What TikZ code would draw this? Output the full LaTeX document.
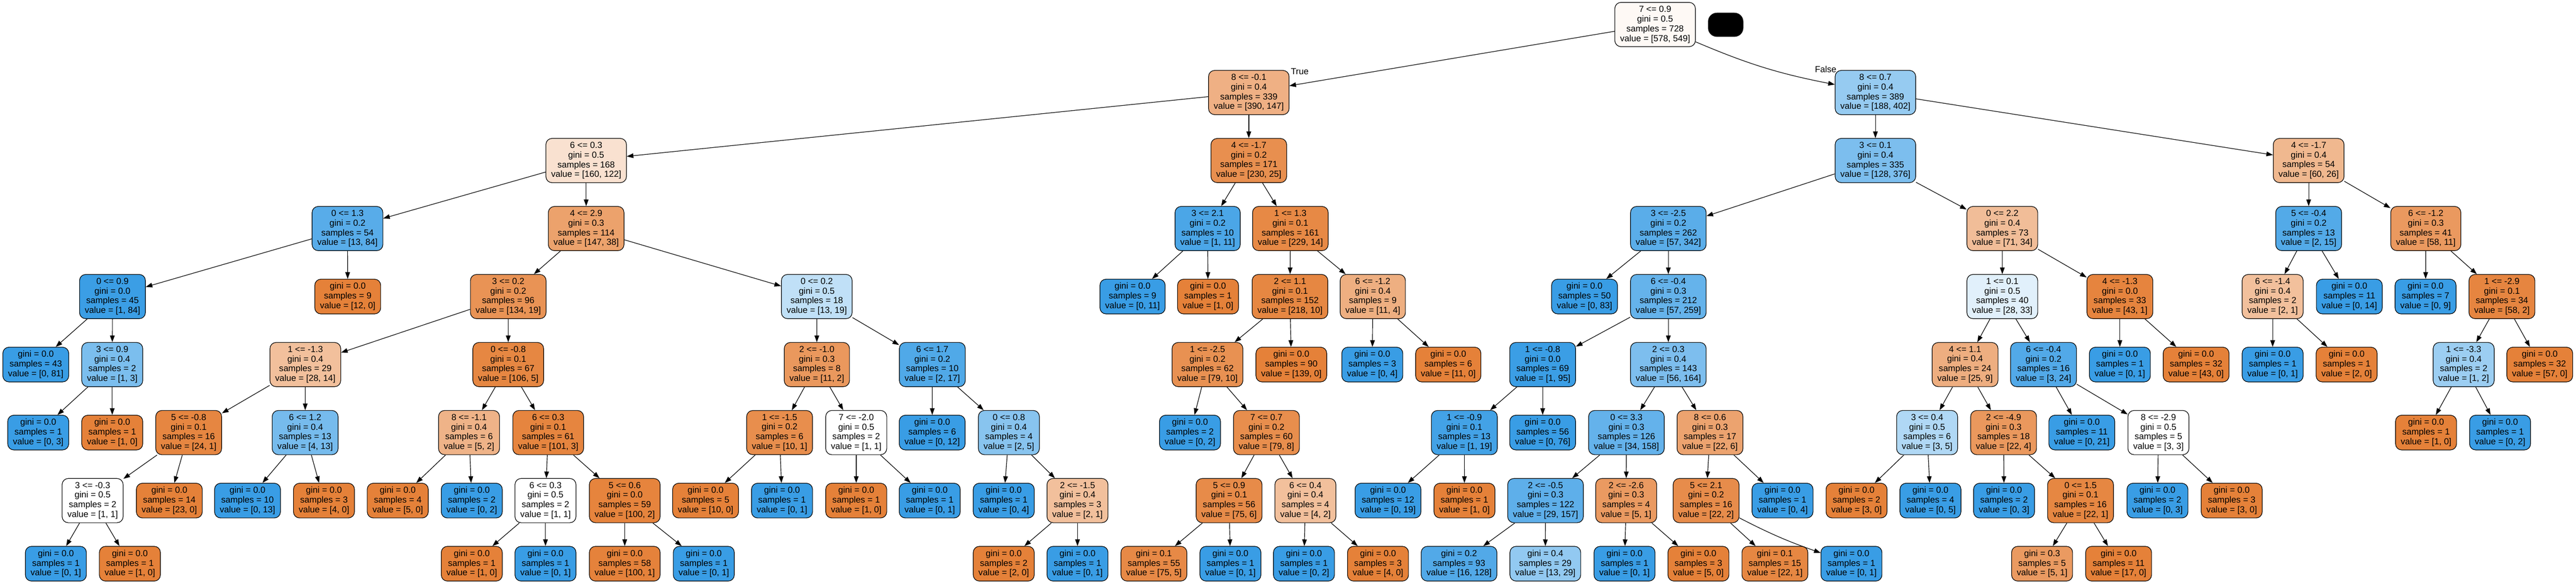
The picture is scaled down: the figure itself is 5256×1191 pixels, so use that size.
\documentclass[tikz,border=0pt]{standalone}
\usepackage{fontspec}
\setmainfont{Liberation Sans}
\usetikzlibrary{arrows.meta}
\definecolor{co}{RGB}{229,129,57}
\definecolor{cb}{RGB}{57,157,229}
\newcommand{\Dsplit}[4]{#1\\gini = #2\\samples = #3\\value = [#4]}
\newcommand{\Dleaf}[3]{gini = #1\\samples = #2\\value = [#3]}
\tikzset{
  tn/.style={draw=black, line width=0.7pt, rounded corners=0.25cm, align=center,
    inner xsep=6.07pt, inner ysep=4.13pt, font=\fontsize{10.2pt}{11.28pt}\selectfont},
  edge/.style={draw=black, line width=0.7pt, -{Triangle[length=0.27cm,width=0.19cm]}},
  lbl/.style={inner sep=0pt, font=\fontsize{10.2pt}{11.28pt}\selectfont}
}
\begin{document}
\begin{tikzpicture}[x=0.02cm,y=-0.02cm]
\path[use as bounding box, fill=white] (0,0) rectangle (5256,1191);
% depth 0
\node[tn,fill=co!5.0] (r) at (3377,50) {\Dsplit{7 <= 0.9}{0.5}{728}{578, 549}};
\node[fill=black, rounded corners=0.36cm, minimum width=1.44cm, minimum height=0.98cm, inner sep=0pt] (blk) at (3521,50.5) {};
% depth 1
\node[tn,fill=co!62.3] (a) at (2548,188.7) {\Dsplit{8 <= -0.1}{0.4}{339}{390, 147}};
\node[tn,fill=cb!53.2] (b) at (3826.5,188.7) {\Dsplit{8 <= 0.7}{0.4}{389}{188, 402}};
% depth 2
\node[tn,fill=co!23.8] (aa) at (1196,327.4) {\Dsplit{6 <= 0.3}{0.5}{168}{160, 122}};
\node[tn,fill=co!89.1] (ab) at (2548,327.4) {\Dsplit{4 <= -1.7}{0.2}{171}{230, 25}};
\node[tn,fill=cb!66.0] (ba) at (3826.5,327.4) {\Dsplit{3 <= 0.1}{0.4}{335}{128, 376}};
\node[tn,fill=co!56.7] (bb) at (4710.5,327.4) {\Dsplit{4 <= -1.7}{0.4}{54}{60, 26}};
% depth 3
\node[tn,fill=cb!84.5] (aaa) at (709,466.1) {\Dsplit{0 <= 1.3}{0.2}{54}{13, 84}};
\node[tn,fill=co!74.1] (aab) at (1196,466.1) {\Dsplit{4 <= 2.9}{0.3}{114}{147, 38}};
\node[tn,fill=cb!90.9] (aba) at (2464,466.1) {\Dsplit{3 <= 2.1}{0.2}{10}{1, 11}};
\node[tn,fill=co!93.9] (abb) at (2632.8,466.1) {\Dsplit{1 <= 1.3}{0.1}{161}{229, 14}};
\node[tn,fill=cb!83.3] (baa) at (3404,466.1) {\Dsplit{3 <= -2.5}{0.2}{262}{57, 342}};
\node[tn,fill=co!52.1] (bab) at (4085.4,466.1) {\Dsplit{0 <= 2.2}{0.4}{73}{71, 34}};
\node[tn,fill=cb!86.7] (bba) at (4710.5,466.1) {\Dsplit{5 <= -0.4}{0.2}{13}{2, 15}};
\node[tn,fill=co!81.0] (bbb) at (4949.5,466.1) {\Dsplit{6 <= -1.2}{0.3}{41}{58, 11}};
% depth 4
\node[tn,fill=cb!98.8] (aaaa) at (229.5,604.8) {\Dsplit{0 <= 0.9}{0.0}{45}{1, 84}};
\node[tn,fill=co] (aaab) at (709.5,604.8) {\Dleaf{0.0}{9}{12, 0}};
\node[tn,fill=co!85.8] (aaba) at (1037,604.8) {\Dsplit{3 <= 0.2}{0.2}{96}{134, 19}};
\node[tn,fill=cb!31.6] (aabb) at (1666.5,604.8) {\Dsplit{0 <= 0.2}{0.5}{18}{13, 19}};
\node[tn,fill=cb] (abaa) at (2310.8,604.8) {\Dleaf{0.0}{9}{0, 11}};
\node[tn,fill=co] (abab) at (2464.8,604.8) {\Dleaf{0.0}{1}{1, 0}};
\node[tn,fill=co!95.4] (abba) at (2632,604.8) {\Dsplit{2 <= 1.1}{0.1}{152}{218, 10}};
\node[tn,fill=co!63.6] (abbb) at (2801,604.8) {\Dsplit{6 <= -1.2}{0.4}{9}{11, 4}};
\node[tn,fill=cb] (baaa) at (3233,604.8) {\Dleaf{0.0}{50}{0, 83}};
\node[tn,fill=cb!78.0] (baab) at (3404,604.8) {\Dsplit{6 <= -0.4}{0.3}{212}{57, 259}};
\node[tn,fill=cb!15.2] (baba) at (4085.4,604.8) {\Dsplit{1 <= 0.1}{0.5}{40}{28, 33}};
\node[tn,fill=co!97.7] (babb) at (4325.3,604.8) {\Dsplit{4 <= -1.3}{0.0}{33}{43, 1}};
\node[tn,fill=co!50] (bbaa) at (4637,604.8) {\Dsplit{6 <= -1.4}{0.4}{2}{2, 1}};
\node[tn,fill=cb] (bbab) at (4793.5,604.8) {\Dleaf{0.0}{11}{0, 14}};
\node[tn,fill=cb] (bbba) at (4949,604.8) {\Dleaf{0.0}{7}{0, 9}};
\node[tn,fill=co!96.6] (bbbb) at (5104.8,604.8) {\Dsplit{1 <= -2.9}{0.1}{34}{58, 2}};
% depth 5
\node[tn,fill=cb] (aaaaa) at (73,743.5) {\Dleaf{0.0}{43}{0, 81}};
\node[tn,fill=cb!66.7] (aaaab) at (229,743.5) {\Dsplit{3 <= 0.9}{0.4}{2}{1, 3}};
\node[tn,fill=co!50] (aabaa) at (623,743.5) {\Dsplit{1 <= -1.3}{0.4}{29}{28, 14}};
\node[tn,fill=co!95.3] (aabab) at (1037,743.5) {\Dsplit{0 <= -0.8}{0.1}{67}{106, 5}};
\node[tn,fill=co!81.8] (aabba) at (1666.7,743.5) {\Dsplit{2 <= -1.0}{0.3}{8}{11, 2}};
\node[tn,fill=cb!88.2] (aabbb) at (1902.3,743.5) {\Dsplit{6 <= 1.7}{0.2}{10}{2, 17}};
\node[tn,fill=co!87.3] (abbaa) at (2463.7,743.5) {\Dsplit{1 <= -2.5}{0.2}{62}{79, 10}};
\node[tn,fill=co] (abbab) at (2634.8,743.5) {\Dleaf{0.0}{90}{139, 0}};
\node[tn,fill=cb] (abbba) at (2800,743.5) {\Dleaf{0.0}{3}{0, 4}};
\node[tn,fill=co] (abbbb) at (2955,743.5) {\Dleaf{0.0}{6}{11, 0}};
\node[tn,fill=cb!98.9] (baaba) at (3147.6,743.5) {\Dsplit{1 <= -0.8}{0.0}{69}{1, 95}};
\node[tn,fill=cb!65.9] (baabb) at (3404,743.5) {\Dsplit{2 <= 0.3}{0.4}{143}{56, 164}};
\node[tn,fill=co!64] (babaa) at (4009.4,743.5) {\Dsplit{4 <= 1.1}{0.4}{24}{25, 9}};
\node[tn,fill=cb!87.5] (babab) at (4169.5,743.5) {\Dsplit{6 <= -0.4}{0.2}{16}{3, 24}};
\node[tn,fill=cb] (babba) at (4325.3,743.5) {\Dleaf{0.0}{1}{0, 1}};
\node[tn,fill=co] (babbb) at (4480.8,743.5) {\Dleaf{0.0}{32}{43, 0}};
\node[tn,fill=cb] (bbaaa) at (4637,743.5) {\Dleaf{0.0}{1}{0, 1}};
\node[tn,fill=co] (bbaab) at (4788,743.5) {\Dleaf{0.0}{1}{2, 0}};
\node[tn,fill=cb!50] (bbbba) at (5026.8,743.5) {\Dsplit{1 <= -3.3}{0.4}{2}{1, 2}};
\node[tn,fill=co] (bbbbb) at (5182,743.5) {\Dleaf{0.0}{32}{57, 0}};
% depth 6
\node[tn,fill=cb] (aaaaba) at (78,882.2) {\Dleaf{0.0}{1}{0, 3}};
\node[tn,fill=co] (aaaabb) at (229,882.2) {\Dleaf{0.0}{1}{1, 0}};
\node[tn,fill=co!95.8] (aabaaa) at (385,882.2) {\Dsplit{5 <= -0.8}{0.1}{16}{24, 1}};
\node[tn,fill=cb!69.2] (aabaab) at (622.6,882.2) {\Dsplit{6 <= 1.2}{0.4}{13}{4, 13}};
\node[tn,fill=co!60] (aababa) at (957,882.2) {\Dsplit{8 <= -1.1}{0.4}{6}{5, 2}};
\node[tn,fill=co!97.0] (aababb) at (1118.5,882.2) {\Dsplit{6 <= 0.3}{0.1}{61}{101, 3}};
\node[tn,fill=co!90] (aabbaa) at (1590.6,882.2) {\Dsplit{1 <= -1.5}{0.2}{6}{10, 1}};
\node[tn,fill=white] (aabbab) at (1747,882.2) {\Dsplit{7 <= -2.0}{0.5}{2}{1, 1}};
\node[tn,fill=cb] (aabbba) at (1902,882.2) {\Dleaf{0.0}{6}{0, 12}};
\node[tn,fill=cb!60] (aabbbb) at (2058.5,882.2) {\Dsplit{0 <= 0.8}{0.4}{4}{2, 5}};
\node[tn,fill=cb] (abbaaa) at (2428,882.2) {\Dleaf{0.0}{2}{0, 2}};
\node[tn,fill=co!89.9] (abbaab) at (2584,882.2) {\Dsplit{7 <= 0.7}{0.2}{60}{79, 8}};
\node[tn,fill=cb!94.7] (baabaa) at (2987.8,882.2) {\Dsplit{1 <= -0.9}{0.1}{13}{1, 19}};
\node[tn,fill=cb] (baabab) at (3147.6,882.2) {\Dleaf{0.0}{56}{0, 76}};
\node[tn,fill=cb!78.5] (baabba) at (3318.5,882.2) {\Dsplit{0 <= 3.3}{0.3}{126}{34, 158}};
\node[tn,fill=co!72.7] (baabbb) at (3489,882.2) {\Dsplit{8 <= 0.6}{0.3}{17}{22, 6}};
\node[tn,fill=cb!40] (babaaa) at (3932,882.2) {\Dsplit{3 <= 0.4}{0.5}{6}{3, 5}};
\node[tn,fill=co!81.8] (babaab) at (4088,882.2) {\Dsplit{2 <= -4.9}{0.3}{18}{22, 4}};
\node[tn,fill=cb] (bababa) at (4247.6,882.2) {\Dleaf{0.0}{11}{0, 21}};
\node[tn,fill=white] (bababb) at (4404,882.2) {\Dsplit{8 <= -2.9}{0.5}{5}{3, 3}};
\node[tn,fill=co] (bbbbaa) at (4950,882.2) {\Dleaf{0.0}{1}{1, 0}};
\node[tn,fill=cb] (bbbbab) at (5101,882.2) {\Dleaf{0.0}{1}{0, 2}};
% depth 7
\node[tn,fill=white] (aabaaaa) at (189,1020.9) {\Dsplit{3 <= -0.3}{0.5}{2}{1, 1}};
\node[tn,fill=co] (aabaaab) at (345.5,1020.9) {\Dleaf{0.0}{14}{23, 0}};
\node[tn,fill=cb] (aabaaba) at (505,1020.9) {\Dleaf{0.0}{10}{0, 13}};
\node[tn,fill=co] (aabaabb) at (661,1020.9) {\Dleaf{0.0}{3}{4, 0}};
\node[tn,fill=co] (aababaa) at (811.6,1020.9) {\Dleaf{0.0}{4}{5, 0}};
\node[tn,fill=cb] (aababab) at (962.6,1020.9) {\Dleaf{0.0}{2}{0, 2}};
\node[tn,fill=white] (aababba) at (1113,1020.9) {\Dsplit{6 <= 0.3}{0.5}{2}{1, 1}};
\node[tn,fill=co!98] (aababbb) at (1274.7,1020.9) {\Dsplit{5 <= 0.6}{0.0}{59}{100, 2}};
\node[tn,fill=co] (aabbaaa) at (1439.6,1020.9) {\Dleaf{0.0}{5}{10, 0}};
\node[tn,fill=cb] (aabbaab) at (1595.6,1020.9) {\Dleaf{0.0}{1}{0, 1}};
\node[tn,fill=co] (aabbaba) at (1747,1020.9) {\Dleaf{0.0}{1}{1, 0}};
\node[tn,fill=cb] (aabbabb) at (1897,1020.9) {\Dleaf{0.0}{1}{0, 1}};
\node[tn,fill=cb] (aabbbba) at (2048,1020.9) {\Dleaf{0.0}{1}{0, 4}};
\node[tn,fill=co!50] (aabbbbb) at (2198.5,1020.9) {\Dsplit{2 <= -1.5}{0.4}{3}{2, 1}};
\node[tn,fill=co!92] (abbaaba) at (2507.8,1020.9) {\Dsplit{5 <= 0.9}{0.1}{56}{75, 6}};
\node[tn,fill=co!50] (abbaabb) at (2663.5,1020.9) {\Dsplit{6 <= 0.4}{0.4}{4}{4, 2}};
\node[tn,fill=cb] (baabaaa) at (2832,1020.9) {\Dleaf{0.0}{12}{0, 19}};
\node[tn,fill=co] (baabaab) at (2988,1020.9) {\Dleaf{0.0}{1}{1, 0}};
\node[tn,fill=cb!81.5] (baabbaa) at (3153.4,1020.9) {\Dsplit{2 <= -0.5}{0.3}{122}{29, 157}};
\node[tn,fill=co!80] (baabbab) at (3318,1020.9) {\Dsplit{2 <= -2.6}{0.3}{4}{5, 1}};
\node[tn,fill=co!90.9] (baabbba) at (3481,1020.9) {\Dsplit{5 <= 2.1}{0.2}{16}{22, 2}};
\node[tn,fill=cb] (baabbbb) at (3637,1020.9) {\Dleaf{0.0}{1}{0, 4}};
\node[tn,fill=co] (babaaaa) at (3788,1020.9) {\Dleaf{0.0}{2}{3, 0}};
\node[tn,fill=cb] (babaaab) at (3938.8,1020.9) {\Dleaf{0.0}{4}{0, 5}};
\node[tn,fill=cb] (babaaba) at (4089,1020.9) {\Dleaf{0.0}{2}{0, 3}};
\node[tn,fill=co!95.5] (babaabb) at (4245,1020.9) {\Dsplit{0 <= 1.5}{0.1}{16}{22, 1}};
\node[tn,fill=cb] (bababba) at (4402,1020.9) {\Dleaf{0.0}{2}{0, 3}};
\node[tn,fill=co] (bababbb) at (4553.5,1020.9) {\Dleaf{0.0}{3}{3, 0}};
% depth 8
\node[tn,fill=cb] (aabaaaaa) at (114,1149.6) {\Dleaf{0.0}{1}{0, 1}};
\node[tn,fill=co] (aabaaaab) at (265,1149.6) {\Dleaf{0.0}{1}{1, 0}};
\node[tn,fill=co] (aababbaa) at (962.6,1149.6) {\Dleaf{0.0}{1}{1, 0}};
\node[tn,fill=cb] (aababbab) at (1113,1149.6) {\Dleaf{0.0}{1}{0, 1}};
\node[tn,fill=co!99] (aababbba) at (1274.7,1149.6) {\Dleaf{0.0}{58}{100, 1}};
\node[tn,fill=cb] (aababbbb) at (1436,1149.6) {\Dleaf{0.0}{1}{0, 1}};
\node[tn,fill=co] (aabbbbba) at (2048,1149.6) {\Dleaf{0.0}{2}{2, 0}};
\node[tn,fill=cb] (aabbbbbb) at (2198.5,1149.6) {\Dleaf{0.0}{1}{0, 1}};
\node[tn,fill=co!93.3] (abbaabaa) at (2354.4,1149.6) {\Dleaf{0.1}{55}{75, 5}};
\node[tn,fill=cb] (abbaabab) at (2510.5,1149.6) {\Dleaf{0.0}{1}{0, 1}};
\node[tn,fill=cb] (abbaabba) at (2660.5,1149.6) {\Dleaf{0.0}{1}{0, 2}};
\node[tn,fill=co] (abbaabbb) at (2811.6,1149.6) {\Dleaf{0.0}{3}{4, 0}};
\node[tn,fill=cb!87.5] (baabbaaa) at (2977,1149.6) {\Dleaf{0.2}{93}{16, 128}};
\node[tn,fill=cb!55.2] (baabbaab) at (3153,1149.6) {\Dleaf{0.4}{29}{13, 29}};
\node[tn,fill=cb] (baabbaba) at (3314.6,1149.6) {\Dleaf{0.0}{1}{0, 1}};
\node[tn,fill=co] (baabbabb) at (3465.4,1149.6) {\Dleaf{0.0}{3}{5, 0}};
\node[tn,fill=co!95.5] (baabbbaa) at (3621.4,1149.6) {\Dleaf{0.1}{15}{22, 1}};
\node[tn,fill=cb] (baabbbab) at (3777.6,1149.6) {\Dleaf{0.0}{1}{0, 1}};
\node[tn,fill=co!80] (babaabba) at (4166.6,1149.6) {\Dleaf{0.3}{5}{5, 1}};
\node[tn,fill=co] (babaabbb) at (4322.7,1149.6) {\Dleaf{0.0}{11}{17, 0}};
% edges
\draw[edge] (r) -- (a);
\draw[edge] (r) to[bend right=6] (b);
\node[lbl] (ltrue) at (2652,146) {True};
\node[lbl] (lfalse) at (3725,141) {False};
\foreach \p in {a,b,aa,ab,ba,bb,aaa,aab,aba,abb,baa,bab,bba,bbb,
  aaaa,aaba,aabb,abba,abbb,baab,baba,babb,bbaa,bbbb,
  aaaab,aabaa,aabab,aabba,aabbb,abbaa,baaba,baabb,babaa,babab,bbbba,
  aabaaa,aabaab,aababa,aababb,aabbaa,aabbab,aabbbb,abbaab,baabaa,baabba,baabbb,babaaa,babaab,bababb,
  aabaaaa,aababba,aababbb,aabbbbb,abbaaba,abbaabb,baabbaa,baabbab,babaabb}{
  \draw[edge] (\p) -- (\p a);
  \draw[edge] (\p) -- (\p b);
}
\draw[edge] (baabbba) -- (baabbbaa);
\draw[edge] (baabbba) to[bend right=4] (baabbbab);
\end{tikzpicture}
\end{document}
